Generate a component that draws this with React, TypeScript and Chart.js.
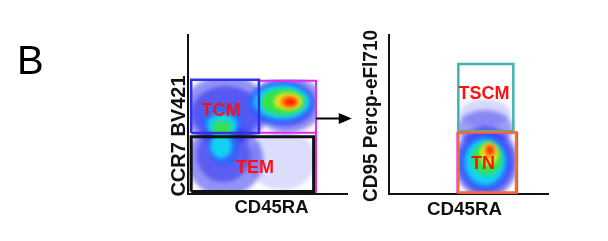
import React, { useEffect, useRef } from "react";
import { Chart, registerables } from "chart.js";
Chart.register(...registerables);

// ---------- data ----------
const panelLetter = "B";
const xTitles = ["CD45RA", "CD45RA"];
const yTitles = ["CCR7 BV421", "CD95 Percp-eFl710"];

// density level colours (low -> high)
const levelColors = ["#2828ee", "#2f66ff", "#12d2f2", "#36e24a", "#f2ee1e", "#ff8a12", "#ff1808"];

// plot 1 density blobs: [x, y, rx, ry, level, alpha]
const p1Blobs: number[][] = [
  [23.9, 52.8, 27.0, 22.0, 0, 0.5],
  [23.9, 50.8, 22.0, 17.0, 0, 0.55],
  [62.9, 56.6, 22.0, 18.0, 0, 0.5],
  [61.9, 56.6, 18.0, 14.0, 0, 0.55],
  [23.3, 21.4, 24.0, 23.0, 0, 0.5],
  [22.3, 24.4, 17.0, 17.0, 0, 0.5],
  [59.1, 21.4, 21.4, 18.9, 0, 0.16],
  [21.4, 46.5, 13.6, 10.4, 1, 0.9],
  [22.6, 28.9, 9.8, 11, 1, 0.9],
  [57.9, 57.2, 20.8, 13.2, 1, 0.9],
  [21.4, 43.4, 9.5, 7.3, 2, 1],
  [20.8, 30.2, 6.7, 7.9, 2, 1],
  [59.1, 57.9, 17.6, 10.7, 2, 1],
  [21.4, 41.1, 6.0, 5.0, 3, 1],
  [59.7, 57.9, 13.8, 8.2, 3, 1],
  [62.9, 58.2, 8.8, 5.3, 4, 1],
  [63.5, 57.9, 6.3, 3.8, 5, 1],
  [64.2, 57.9, 3.8, 2.5, 6, 1],
];
// plot 2 density blobs
const p2Blobs: number[][] = [
  [60.4, 41.5, 17.6, 11.3, 0, 0.45],
  [60.4, 50.9, 16.4, 8.8, 0, 0.18],
  [61.0, 20.1, 20.0, 22.5, 0, 0.6],
  [61.0, 20.1, 17.0, 19.0, 0, 0.5],
  [60.4, 20.1, 15.7, 17.6, 1, 1],
  [60.4, 20.1, 12.6, 14.5, 2, 1],
  [61.6, 22.0, 9.4, 10.0, 3, 1],
  [62.9, 25.2, 5.7, 6.9, 4, 1],
  [63.5, 27.0, 3.5, 4.4, 5, 1],
  [63.5, 27.7, 1.9, 2.5, 6, 1],
];
// region holding events: [xMin, xMax, yMin, yMax]
const p1EventRange = [2, 80.5, 1, 72];
const p2EventRange = [43.6, 80, 0.5, 60];

// gates: [xMin, xMax, yMin, yMax]  (first = on top)
const p1GateBoxes = [
  [2, 44.6, 38.4, 71.9],
  [2, 79, 1.5, 36],
  [44.6, 80.5, 38.5, 71.3],
];
const p1GateColors = ["#3030e6", "#111111", "#e82ae8"];
const p1GateWidths = [2.5, 3, 2];
const p1ExtraLine = [80.5, 38.5, 80.5, 0.5]; // magenta edge down to the axis

const p2GateBoxes = [
  [43.6, 79.9, 1, 38.8],
  [43.6, 78.2, 39.6, 81.8],
  [43.0, 80.6, 0.5, 38.6],
];
const p2GateColors = ["#f07028", "#3fb3b0", "#e82ae8"];
const p2GateWidths = [2.5, 2.5, 2];

// gate labels: [text, x, y]
const p1Labels: [string, number, number][] = [
  ["TCM", 20.8, 51.9],
  ["TEM", 42.1, 16.2],
];
const p2Labels: [string, number, number][] = [
  ["TSCM", 59.7, 62.9],
  ["TN", 59.1, 18.7],
];

// arrow between plots: [xFrom, xTo, y]
const arrow = [80.5, 103, 48];

// ---------- helpers ----------
function boxPoints(b: number[]) {
  const [x0, x1, y0, y1] = b;
  return [
    { x: x0, y: y0 },
    { x: x1, y: y0 },
    { x: x1, y: y1 },
    { x: x0, y: y1 },
    { x: x0, y: y0 },
  ];
}

function gateDatasets(boxes: number[][], colors: string[], widths: number[], extra?: number[]) {
  const ds: any[] = boxes.map((b, i) => ({
    data: boxPoints(b),
    showLine: true,
    borderColor: colors[i],
    borderWidth: widths[i],
    pointRadius: 0,
    fill: false,
    tension: 0,
    borderJoinStyle: "miter",
  }));
  if (extra) {
    ds.push({
      data: [
        { x: extra[0], y: extra[1] },
        { x: extra[2], y: extra[3] },
      ],
      showLine: true,
      borderColor: colors[colors.length - 1],
      borderWidth: widths[widths.length - 1],
      pointRadius: 0,
      fill: false,
    });
  }
  return ds;
}

function blobPlugin(blobs: number[][], range: number[]) {
  return {
    id: "blobs",
    beforeDatasetsDraw(chart: any) {
      const { ctx, scales } = chart;
      const x = scales.x, y = scales.y;
      ctx.save();
      const l = x.getPixelForValue(range[0]);
      const r = x.getPixelForValue(range[1]);
      const b = y.getPixelForValue(range[2]);
      const t = y.getPixelForValue(range[3]);
      ctx.beginPath();
      ctx.rect(l, t, r - l, b - t);
      ctx.clip();
      ctx.filter = "blur(2px)";
      for (const [bx, by, rx, ry, lvl, a] of blobs) {
        const cx = x.getPixelForValue(bx);
        const cy = y.getPixelForValue(by);
        const prx = Math.abs(x.getPixelForValue(bx + rx) - cx);
        const pry = Math.abs(y.getPixelForValue(by + ry) - cy);
        ctx.globalAlpha = a;
        ctx.fillStyle = levelColors[lvl];
        ctx.beginPath();
        ctx.ellipse(cx, cy, prx, pry, 0, 0, Math.PI * 2);
        ctx.fill();
      }
      ctx.restore();
    },
  };
}

function labelPlugin(labels: [string, number, number][]) {
  return {
    id: "gateLabels",
    afterDatasetsDraw(chart: any) {
      const { ctx, scales } = chart;
      ctx.save();
      ctx.fillStyle = "#ff0f0f";
      ctx.font = "bold 18px 'Liberation Sans', Arial, sans-serif";
      ctx.textAlign = "center";
      ctx.textBaseline = "middle";
      for (const [t, lx, ly] of labels) {
        ctx.fillText(t, scales.x.getPixelForValue(lx), scales.y.getPixelForValue(ly));
      }
      ctx.restore();
    },
  };
}

function titlePlugin(xt: string, xCx: number, xBase: number, xMax: number, yt: string, yBase: number, yCy: number, yMax: number, ySize: number) {
  return {
    id: "titles",
    afterDraw(chart: any) {
      const { ctx } = chart;
      ctx.save();
      ctx.fillStyle = "#111";
      ctx.textAlign = "center";
      ctx.textBaseline = "alphabetic";
      ctx.font = "bold 19px 'Liberation Sans', Arial, sans-serif";
      ctx.fillText(xt, xCx, xBase, xMax);
      ctx.translate(yBase, yCy);
      ctx.rotate(-Math.PI / 2);
      ctx.font = `bold ${ySize}px 'Liberation Sans', Arial, sans-serif`;
      ctx.fillText(yt, 0, 0, yMax);
      ctx.restore();
    },
  };
}

const extrasPlugin = {
  id: "extras",
  afterDraw(chart: any) {
    const { ctx, scales } = chart;
    ctx.save();
    // panel letter
    ctx.fillStyle = "#000";
    ctx.font = "40px 'Liberation Sans', Arial, sans-serif";
    ctx.textBaseline = "alphabetic";
    ctx.textAlign = "left";
    ctx.fillText(panelLetter, 17, 74);
    // arrow
    const x0 = scales.x.getPixelForValue(arrow[0]);
    const x1 = scales.x.getPixelForValue(arrow[1]);
    const yy = Math.round(scales.y.getPixelForValue(arrow[2])) + 0.5;
    ctx.strokeStyle = "#000";
    ctx.lineWidth = 2;
    ctx.beginPath();
    ctx.moveTo(x0, yy);
    ctx.lineTo(x1 - 10, yy);
    ctx.stroke();
    ctx.fillStyle = "#000";
    ctx.beginPath();
    ctx.moveTo(x1, yy);
    ctx.lineTo(x1 - 13, yy - 5.5);
    ctx.lineTo(x1 - 13, yy + 5.5);
    ctx.closePath();
    ctx.fill();
    ctx.restore();
  },
};

function axisScales() {
  const common = {
    type: "linear",
    min: 0,
    max: 100,
    grid: { display: false, drawTicks: false },
    ticks: { display: false },
    border: { display: true, color: "#111", width: 2 },
  };
  return {
    x: { ...common, afterFit: (s: any) => { s.height = 30; } },
    y: { ...common, afterFit: (s: any) => { s.width = 30; } },
  };
}

function makeConfig(datasets: any[], padding: any, plugins: any[]) {
  return {
    type: "scatter",
    data: { datasets },
    options: {
      responsive: false,
      animation: false,
      devicePixelRatio: 1,
      events: [],
      layout: { padding, autoPadding: false },
      plugins: { legend: { display: false }, tooltip: { enabled: false } },
      scales: axisScales(),
    },
    plugins,
  } as any;
}

export default function App() {
  const c1 = useRef<HTMLCanvasElement>(null);
  const c2 = useRef<HTMLCanvasElement>(null);

  useEffect(() => {
    const ch1 = new Chart(
      c1.current!,
      makeConfig(
        gateDatasets(p1GateBoxes, p1GateColors, p1GateWidths, p1ExtraLine),
        { left: 158, right: 13, top: 35, bottom: 17 },
        [
          blobPlugin(p1Blobs, p1EventRange),
          labelPlugin(p1Labels),
          titlePlugin(xTitles[0], 271.5, 213, 74, yTitles[0], 185, 136, 122, 20),
          extrasPlugin,
        ]
      )
    );
    const ch2 = new Chart(
      c2.current!,
      makeConfig(
        gateDatasets(p2GateBoxes, p2GateColors, p2GateWidths),
        { left: 9, right: 60, top: 35, bottom: 17 },
        [
          blobPlugin(p2Blobs, p2EventRange),
          labelPlugin(p2Labels),
          titlePlugin(xTitles[1], 114.5, 215, 75, yTitles[1], 27, 116, 172, 20),
        ]
      )
    );
    return () => {
      ch1.destroy();
      ch2.destroy();
    };
  }, []);

  return (
    <div style={{ position: "fixed", left: 0, top: 0, width: 608, height: 241, background: "#fff", overflow: "hidden" }}>
      <canvas ref={c1} width={360} height={241} style={{ position: "absolute", left: 0, top: 0, width: 360, height: 241 }} />
      <canvas ref={c2} width={258} height={241} style={{ position: "absolute", left: 350, top: 0, width: 258, height: 241 }} />
    </div>
  );
}
